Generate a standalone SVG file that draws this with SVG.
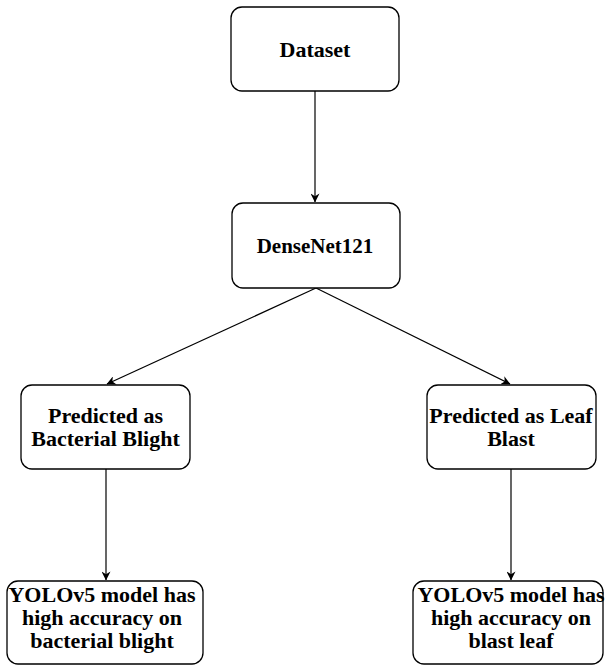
<svg xmlns="http://www.w3.org/2000/svg" width="606" height="667" viewBox="0 0 606 667">
<style>
.box{fill:#fff;stroke:#000;stroke-width:1.3}
.t{font-family:"Liberation Serif","Times New Roman",serif;font-weight:bold;font-size:22px;fill:#000;text-anchor:middle}
.c{stroke:#000;stroke-width:1.2;fill:none}
</style>
<defs>
<marker id="ah" viewBox="0 0 10 10" refX="9.5" refY="5" markerWidth="9" markerHeight="9" markerUnits="userSpaceOnUse" orient="auto">
<path d="M0,0 L10,5 L0,10 L3,5 Z" fill="#000"/>
</marker>
</defs>
<rect width="606" height="667" fill="#fff"/>
<g id="connectors">
<line class="c" x1="315" y1="91" x2="315" y2="202" marker-end="url(#ah)"/>
<line class="c" x1="316" y1="288" x2="107" y2="384" marker-end="url(#ah)"/>
<line class="c" x1="316" y1="288" x2="510" y2="384" marker-end="url(#ah)"/>
<line class="c" x1="106" y1="469" x2="106" y2="580" marker-end="url(#ah)"/>
<line class="c" x1="511" y1="469" x2="511" y2="580" marker-end="url(#ah)"/>
</g>
<g id="dataset">
<rect class="box" x="231" y="7" width="168" height="84" rx="11"/>
<text class="t" x="315" y="57">Dataset</text>
</g>
<g id="densenet">
<rect class="box" x="232" y="203" width="168" height="85" rx="11"/>
<text class="t" x="315" y="253" style="font-size:21px">DenseNet121</text>
</g>
<g id="bacterial">
<rect class="box" x="21" y="385" width="169" height="84" rx="11"/>
<text class="t" x="105.5" y="423">Predicted as</text>
<text class="t" x="105.5" y="446">Bacterial Blight</text>
</g>
<g id="leafblast">
<rect class="box" x="427" y="385" width="169" height="84" rx="11"/>
<text class="t" x="511" y="423">Predicted as Leaf</text>
<text class="t" x="511" y="446">Blast</text>
</g>
<g id="yolo-bacterial">
<rect class="box" x="7" y="581" width="196" height="83" rx="11"/>
<text class="t" x="102" y="602">YOLOv5 model has</text>
<text class="t" x="102" y="625">high accuracy on</text>
<text class="t" x="102" y="648">bacterial blight</text>
</g>
<g id="yolo-blast">
<rect class="box" x="413" y="581" width="190" height="83" rx="11"/>
<text class="t" x="511" y="602">YOLOv5 model has</text>
<text class="t" x="511" y="625">high accuracy on</text>
<text class="t" x="511" y="648">blast leaf</text>
</g>
</svg>
